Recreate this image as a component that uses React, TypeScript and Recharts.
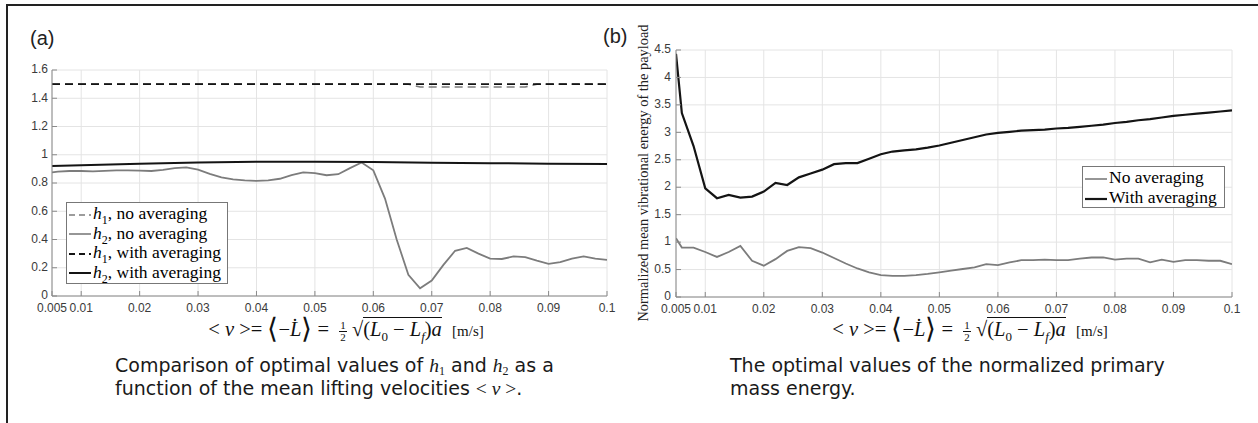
import { LineChart, Line, XAxis, YAxis, CartesianGrid, Legend } from "recharts";

// ---- panel (a): optimal h1 / h2 ----
const velocityA = [
  0.005, 0.006, 0.008, 0.01, 0.012, 0.014, 0.016, 0.018, 0.02, 0.022, 0.024, 0.026, 0.028, 0.03, 0.032, 0.034, 0.036,
  0.038, 0.04, 0.042, 0.044, 0.046, 0.048, 0.05, 0.052, 0.054, 0.056, 0.058, 0.06, 0.062, 0.064, 0.066, 0.068, 0.07,
  0.072, 0.074, 0.076, 0.078, 0.08, 0.082, 0.084, 0.086, 0.088, 0.09, 0.092, 0.094, 0.096, 0.098, 0.1,
];
const h2NoAvg = [
  0.875, 0.88, 0.885, 0.885, 0.882, 0.886, 0.89, 0.89, 0.887, 0.885, 0.893, 0.905, 0.91, 0.895, 0.865, 0.84, 0.825,
  0.818, 0.815, 0.818, 0.83, 0.855, 0.875, 0.87, 0.855, 0.862, 0.905, 0.945, 0.89, 0.69, 0.4, 0.15, 0.055, 0.11,
  0.22, 0.32, 0.34, 0.3, 0.265, 0.262, 0.28, 0.275, 0.25, 0.228, 0.24, 0.265, 0.28, 0.265, 0.255,
];
const h2AvgVelocity = [0.005, 0.01, 0.02, 0.03, 0.04, 0.05, 0.06, 0.07, 0.08, 0.09, 0.1];
const h2Avg = [0.92, 0.925, 0.937, 0.946, 0.95, 0.95, 0.948, 0.944, 0.94, 0.937, 0.935];
const h1NoAvgVelocity = [0.005, 0.066, 0.068, 0.086, 0.088, 0.1];
const h1NoAvg = [1.5, 1.5, 1.48, 1.48, 1.5, 1.5];
const h1AvgVelocity = [0.005, 0.1];
const h1Avg = [1.5, 1.5];

// ---- panel (b): normalized vibrational energy ----
const velocityB = velocityA;
const energyNoAvg = [
  1.07, 0.9, 0.9, 0.82, 0.73, 0.82, 0.93, 0.66, 0.57, 0.69, 0.84, 0.91, 0.89, 0.81, 0.71, 0.61, 0.52, 0.45, 0.4,
  0.385, 0.385, 0.4, 0.42, 0.45, 0.48, 0.51, 0.54, 0.6, 0.58, 0.63, 0.67, 0.67, 0.68, 0.67, 0.67, 0.7, 0.72, 0.72,
  0.68, 0.7, 0.7, 0.63, 0.68, 0.64, 0.67, 0.67, 0.66, 0.66, 0.6,
];
const energyAvg = [
  4.43, 3.35, 2.75, 1.98, 1.8, 1.86, 1.81, 1.83, 1.92, 2.08, 2.04, 2.18, 2.25, 2.32, 2.42, 2.44, 2.44, 2.52, 2.6,
  2.65, 2.67, 2.69, 2.72, 2.76, 2.81, 2.86, 2.91, 2.96, 2.99, 3.01, 3.03, 3.04, 3.05, 3.07, 3.08, 3.1, 3.12, 3.14,
  3.17, 3.19, 3.22, 3.24, 3.27, 3.3, 3.32, 3.34, 3.36, 3.38, 3.4,
];

const xTicks = [0.005, 0.01, 0.02, 0.03, 0.04, 0.05, 0.06, 0.07, 0.08, 0.09, 0.1];
const yTicksA = [0, 0.2, 0.4, 0.6, 0.8, 1, 1.2, 1.4, 1.6];
const yTicksB = [0, 0.5, 1, 1.5, 2, 2.5, 3, 3.5, 4, 4.5];

const pts = (xs: number[], ys: number[]) => xs.map((x, i) => ({ x, y: ys[i] }));

const GRAY = "#7c7c7c";
const BLACK = "#141414";
const AXIS = "#8a8a8a";
const GRID = "#e4e4e4";
const tickStyle = { fontSize: 12, fill: "#3a3a3a", fontFamily: "Liberation Sans, Arial, sans-serif" };
const yTickStyle = { ...tickStyle, dy: -1 };
const serif = "Liberation Serif, 'Times New Roman', serif";
const sans = "'DejaVu Sans', 'Open Sans', sans-serif";

function Sample({ color, dashed, width }: { color: string; dashed?: boolean; width: number }) {
  return (
    <svg width={22} height={10} style={{ verticalAlign: "middle", marginRight: 2 }}>
      <line x1={0} x2={22} y1={5} y2={5} stroke={color} strokeWidth={width} strokeDasharray={dashed ? "6 4" : undefined} />
    </svg>
  );
}

function LegendA() {
  const rows = [
    { c: GRAY, d: true, w: 1.6, sub: "1", t: "no averaging" },
    { c: GRAY, d: false, w: 1.6, sub: "2", t: "no averaging" },
    { c: BLACK, d: true, w: 2, sub: "1", t: "with averaging" },
    { c: BLACK, d: false, w: 2, sub: "2", t: "with averaging" },
  ];
  return (
    <div style={{ border: "1px solid #777", background: "#fff", padding: "1px 2px", fontFamily: serif, fontSize: 17.5, width: 156 }}>
      {rows.map((r, i) => (
        <div key={i} style={{ height: 19.5, lineHeight: "19.5px", whiteSpace: "nowrap" }}>
          <Sample color={r.c} dashed={r.d} width={r.w} />
          <i>h</i>
          <sub style={{ fontSize: 12, lineHeight: 0 }}>{r.sub}</sub>, {r.t}
        </div>
      ))}
    </div>
  );
}

function LegendB() {
  const rows = [
    { c: GRAY, w: 1.6, t: "No averaging" },
    { c: BLACK, w: 2.2, t: "With averaging" },
  ];
  return (
    <div style={{ border: "1px solid #777", background: "#fff", padding: "0 2px", fontFamily: serif, fontSize: 17.5, width: 137 }}>
      {rows.map((r, i) => (
        <div key={i} style={{ height: 20, lineHeight: "20px", whiteSpace: "nowrap" }}>
          <Sample color={r.c} width={r.w} />
          {r.t}
        </div>
      ))}
    </div>
  );
}

const bracket: React.CSSProperties = { fontSize: 28, lineHeight: 0, verticalAlign: -2 };
const subStyle: React.CSSProperties = { fontSize: 13, lineHeight: 0 };

function VelocityLabel({ left, top }: { left: number; top: number }) {
  return (
    <div
      style={{
        position: "absolute",
        left,
        top,
        width: 420,
        textAlign: "center",
        whiteSpace: "nowrap",
        fontFamily: serif,
        fontSize: 20.5,
        lineHeight: "28px",
        color: "#111",
      }}
    >
      &lt; <i>v</i> &gt;=&nbsp;<span style={bracket}>⟨</span>−<i>L&#775;</i>
      <span style={bracket}>⟩</span>&nbsp;=&nbsp;{" "}
      <span style={{ display: "inline-block", verticalAlign: "middle", fontSize: 11, lineHeight: "11px", textAlign: "center" }}>
        <span style={{ display: "block", borderBottom: "1px solid #111", padding: "0 1px" }}>1</span>
        <span style={{ display: "block" }}>2</span>
      </span>{" "}
      √<span style={{ borderTop: "1px solid #111", lineHeight: 0 }}>
        (<i>L</i>
        <sub style={subStyle}>0</sub> − <i>L</i>
        <sub style={subStyle}>
          <i>f</i>
        </sub>
        )<i>a</i>
      </span>
      &nbsp;&nbsp;<span style={{ fontSize: 15 }}>[m/s]</span>
    </div>
  );
}

export default function App() {
  const topTicks = (
    <XAxis xAxisId="top" orientation="top" type="number" dataKey="x" domain={[0.005, 0.1]} ticks={xTicks} interval={0}
      height={0} tick={false} tickSize={-5} stroke={AXIS} />
  );
  const captionStyle: React.CSSProperties = {
    position: "absolute",
    top: 354,
    fontFamily: sans,
    fontSize: 19,
    lineHeight: "23px",
    color: "#1a1a1a",
    whiteSpace: "nowrap",
  };
  const capMath: React.CSSProperties = { fontFamily: serif, fontSize: 19.5, lineHeight: 0 };
  const capSub: React.CSSProperties = { fontFamily: serif, fontSize: 12, lineHeight: 0, verticalAlign: -3 };
  return (
    <div style={{ position: "absolute", left: 0, top: 0, width: 1258, height: 423, background: "#fff", overflow: "hidden" }}>
      {/* outer frame */}
      <div style={{ position: "absolute", left: 7, top: 4, width: 1251, height: 2, background: "#222" }} />
      <div style={{ position: "absolute", left: 6, top: 4, width: 2, height: 419, background: "#222" }} />

      <div style={{ position: "absolute", left: 30, top: 27, fontFamily: "Liberation Sans, Arial", fontSize: 20, color: "#222" }}>(a)</div>
      <div style={{ position: "absolute", left: 603, top: 25, fontFamily: "Liberation Sans, Arial", fontSize: 20, color: "#222" }}>(b)</div>

      {/* panel (a) */}
      <div style={{ position: "absolute", left: 0, top: 0 }}>
        <LineChart width={620} height={330} margin={{ top: 70, right: 13, bottom: 0, left: 0 }}>
          <CartesianGrid stroke={GRID} />
          <XAxis type="number" dataKey="x" domain={[0.005, 0.1]} ticks={xTicks} interval={0} height={34}
            tick={tickStyle} tickSize={-5} tickMargin={12} stroke={AXIS} allowDataOverflow />
          {topTicks}
          <YAxis type="number" domain={[0, 1.6]} ticks={yTicksA} interval={0} width={52}
            tick={yTickStyle} tickSize={-5} tickMargin={9} stroke={AXIS} />
          <YAxis yAxisId="right" orientation="right" type="number" domain={[0, 1.6]} ticks={yTicksA} width={0}
            tick={false} tickSize={-5} stroke={AXIS} />
          <Line data={pts(h1NoAvgVelocity, h1NoAvg)} dataKey="y" stroke={GRAY} strokeWidth={1.6} strokeDasharray="8 5"
            dot={false} isAnimationActive={false} name="h1, no averaging" />
          <Line data={pts(velocityA, h2NoAvg)} dataKey="y" stroke={GRAY} strokeWidth={1.8}
            dot={false} isAnimationActive={false} name="h2, no averaging" />
          <Line data={pts(h1AvgVelocity, h1Avg)} dataKey="y" stroke={BLACK} strokeWidth={1.8} strokeDasharray="8 5"
            dot={false} isAnimationActive={false} name="h1, with averaging" />
          <Line data={pts(h2AvgVelocity, h2Avg)} dataKey="y" stroke={BLACK} strokeWidth={2}
            dot={false} isAnimationActive={false} name="h2, with averaging" />
          <Legend layout="vertical" align="center" verticalAlign="middle" content={() => <LegendA />}
            wrapperStyle={{ position: "absolute", left: 66, top: 202, width: "auto", height: "auto" }} />
        </LineChart>
      </div>
      <VelocityLabel left={136} top={315} />

      {/* panel (b) */}
      <div style={{ position: "absolute", left: 600, top: 0 }}>
        <LineChart width={658} height={330} margin={{ top: 50, right: 26, bottom: 0, left: 0 }}>
          <CartesianGrid stroke={GRID} />
          <XAxis type="number" dataKey="x" domain={[0.005, 0.1]} ticks={xTicks} interval={0} height={33}
            tick={tickStyle} tickSize={-5} tickMargin={12} stroke={AXIS} allowDataOverflow />
          {topTicks}
          <YAxis type="number" domain={[0, 4.5]} ticks={yTicksB} interval={0} width={76}
            tick={yTickStyle} tickSize={-5} tickMargin={10} stroke={AXIS} />
          <YAxis yAxisId="right" orientation="right" type="number" domain={[0, 4.5]} ticks={yTicksB} width={0}
            tick={false} tickSize={-5} stroke={AXIS} />
          <Line data={pts(velocityB, energyNoAvg)} dataKey="y" stroke={GRAY} strokeWidth={1.8}
            dot={false} isAnimationActive={false} name="No averaging" />
          <Line data={pts(velocityB, energyAvg)} dataKey="y" stroke={BLACK} strokeWidth={2.2}
            dot={false} isAnimationActive={false} name="With averaging" />
          <Legend layout="vertical" align="center" verticalAlign="middle" content={() => <LegendB />}
            wrapperStyle={{ position: "absolute", left: 482, top: 166, width: "auto", height: "auto" }} />
        </LineChart>
      </div>
      <div
        style={{
          position: "absolute",
          left: 643,
          top: 173,
          transform: "translate(-50%, -50%) rotate(-90deg)",
          whiteSpace: "nowrap",
          fontFamily: serif,
          fontSize: 14.4,
          color: "#222",
        }}
      >
        Normalized mean vibrational energy of the payload
      </div>
      <VelocityLabel left={760} top={315} />

      {/* captions */}
      <div style={{ ...captionStyle, left: 115 }}>
        Comparison of optimal values of <i style={capMath}>h</i>
        <sub style={capSub}>1</sub> and <i style={capMath}>h</i>
        <sub style={capSub}>2</sub> as a
        <br />
        function of the mean lifting velocities <span style={capMath}>&lt; <i>v</i> &gt;</span>.
      </div>
      <div style={{ ...captionStyle, left: 730 }}>
        The optimal values of the normalized primary
        <br />
        mass energy.
      </div>
    </div>
  );
}
